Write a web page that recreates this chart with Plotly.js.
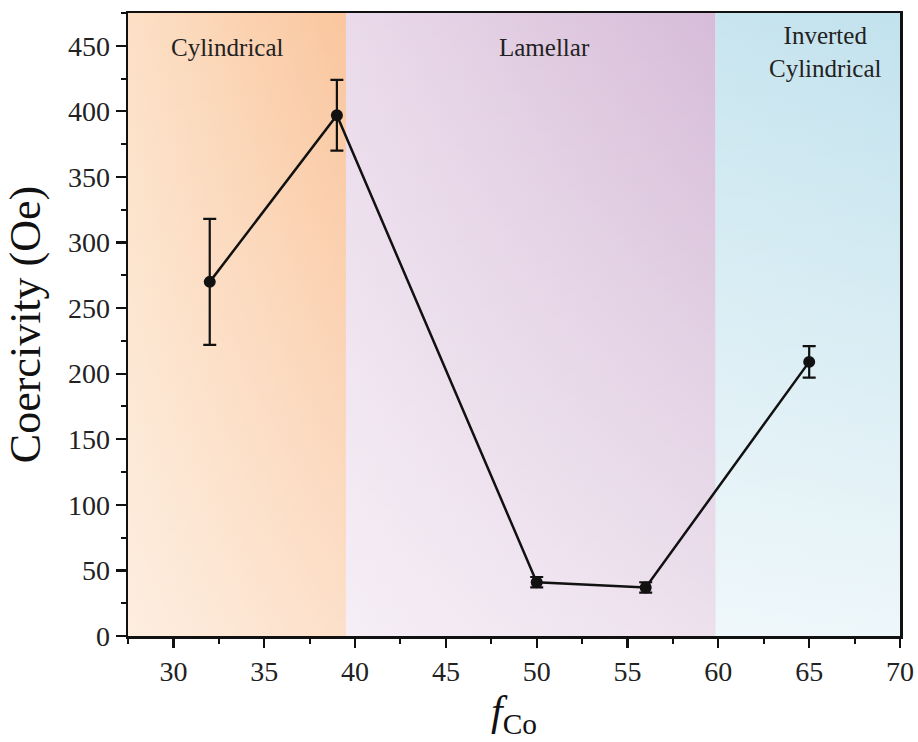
<!DOCTYPE html>
<html>
<head>
<meta charset="utf-8">
<script src="https://cdn.plot.ly/plotly-3.0.1.min.js"></script>
<style>html,body{margin:0;padding:0;background:#fff;}#chart{width:918px;height:742px;}</style>
</head>
<body>
<div id="chart"></div>
<script>
// Data
var fCo = [32, 39, 50, 56, 65];
var coercivity = [270, 397, 41, 37, 209];
var coercivityErr = [48, 27, 4, 4, 12];

// Phase regions
var phaseNames = ['Cylindrical', 'Lamellar', 'Inverted<br>Cylindrical'];
var phaseStart = [27.5, 39.5, 59.85];
var phaseEnd = [39.5, 59.85, 70];

var xRange = [27.5, 70];
var yRange = [0, 475];

// styles
var SERIF = '"Times New Roman", "Liberation Serif", Times, serif';
var phaseLeftColor = ['rgb(252,224,198)', 'rgb(234,218,234)', 'rgb(200,229,239)'];
var phaseRightColor = ['rgb(250,198,158)', 'rgb(214,188,216)', 'rgb(194,226,237)'];
var phaseFade = [0.45, 0.55, 0.72];
var labelShift = [-9, 14, 18];

var traces = [];
for (var i = 0; i < phaseNames.length; i++) {
  var xs = [phaseStart[i], phaseEnd[i], phaseEnd[i], phaseStart[i], phaseStart[i]];
  var ys = [yRange[0], yRange[0], yRange[1], yRange[1], yRange[0]];
  traces.push({
    x: xs, y: ys, type: 'scatter', mode: 'none', fill: 'toself',
    fillgradient: {type: 'horizontal', start: phaseStart[i], stop: phaseEnd[i],
      colorscale: [[0, phaseLeftColor[i]], [1, phaseRightColor[i]]]},
    hoverinfo: 'skip', showlegend: false
  });
  traces.push({
    x: xs, y: ys, type: 'scatter', mode: 'none', fill: 'toself',
    fillgradient: {type: 'vertical', start: yRange[0], stop: yRange[1],
      colorscale: [[0, 'rgba(255,255,255,' + phaseFade[i] + ')'], [1, 'rgba(255,255,255,0)']]},
    hoverinfo: 'skip', showlegend: false
  });
}

traces.push({
  x: fCo, y: coercivity, type: 'scatter', mode: 'lines+markers',
  line: {color: '#111', width: 2.5},
  marker: {symbol: 'circle', size: 12, color: '#111'},
  error_y: {type: 'data', array: coercivityErr, visible: true, color: '#111', thickness: 2.2, width: 6.5},
  showlegend: false
});

var annotations = [];
for (var j = 0; j < phaseNames.length; j++) {
  var multi = phaseNames[j].indexOf('<br>') >= 0;
  annotations.push({
    x: (phaseStart[j] + phaseEnd[j]) / 2, xref: 'x',
    y: multi ? 0.938 : 0.944, yref: 'paper', yanchor: 'middle', xanchor: 'center',
    xshift: labelShift[j],
    text: phaseNames[j], showarrow: false, align: 'center',
    font: {family: SERIF, size: 25, color: '#222'}
  });
}

var axisFont = {family: SERIF, size: 28, color: '#222'};

var layout = {
  width: 918, height: 742,
  margin: {l: 128, r: 18, t: 13, b: 106},
  paper_bgcolor: '#fff', plot_bgcolor: '#fff',
  font: axisFont,
  showlegend: false,
  xaxis: {
    range: xRange, tickvals: [30, 35, 40, 45, 50, 55, 60, 65, 70],
    ticks: 'outside', ticklen: 9, tickwidth: 2.2, tickcolor: '#111',
    minor: {dtick: 2.5, tick0: 30, ticks: 'outside', ticklen: 5, tickwidth: 2, tickcolor: '#111'},
    showline: true, linewidth: 2.5, linecolor: '#111', mirror: true,
    showgrid: false, zeroline: false, tickfont: axisFont,
    title: {text: '<i>f</i><sub>Co</sub>', font: {family: SERIF, size: 42, color: '#111'}, standoff: 10}
  },
  yaxis: {
    range: yRange, dtick: 50, tick0: 0,
    ticks: 'outside', ticklen: 10, tickwidth: 2.2, tickcolor: '#111',
    minor: {dtick: 25, tick0: 0, ticks: 'outside', ticklen: 5, tickwidth: 2, tickcolor: '#111'},
    showline: true, linewidth: 2.5, linecolor: '#111', mirror: true,
    showgrid: false, zeroline: false, tickfont: axisFont,
    title: {text: 'Coercivity (Oe)', font: {family: SERIF, size: 44, color: '#111'}, standoff: 14}
  },
  annotations: annotations
};

Plotly.newPlot('chart', traces, layout, {displayModeBar: false, staticPlot: true});
</script>
</body>
</html>
